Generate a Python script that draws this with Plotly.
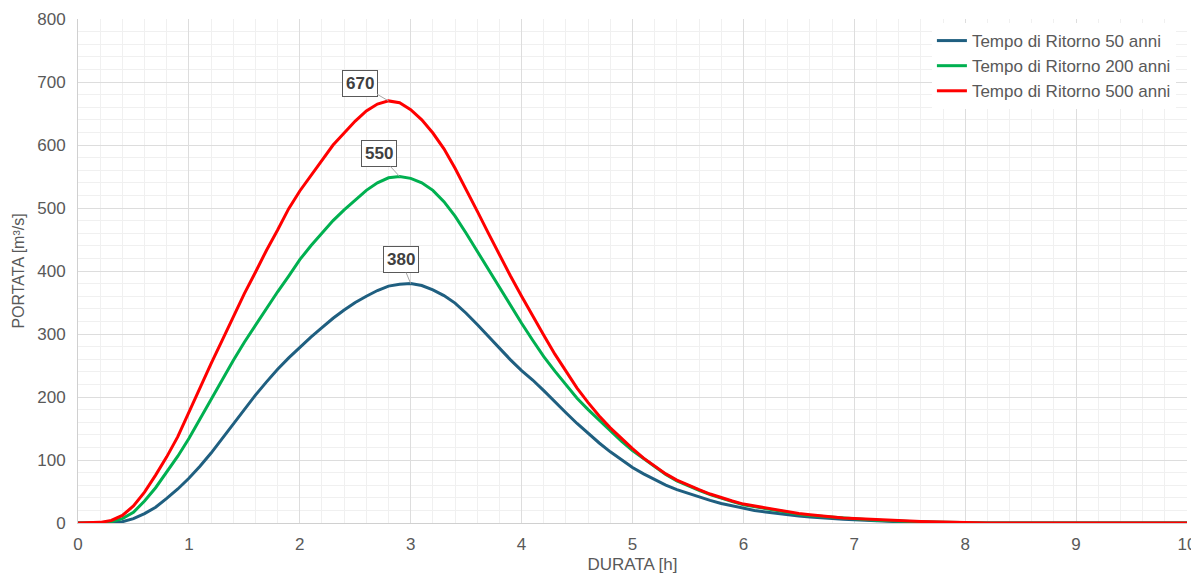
import plotly.graph_objects as go

DURATA = [0.0, 0.1, 0.2, 0.3, 0.4, 0.5, 0.6, 0.7, 0.8, 0.9,
          1.0, 1.1, 1.2, 1.3, 1.4, 1.5, 1.6, 1.7, 1.8, 1.9,
          2.0, 2.1, 2.2, 2.3, 2.4, 2.5, 2.6, 2.7, 2.8, 2.9,
          3.0, 3.1, 3.2, 3.3, 3.4, 3.5, 3.6, 3.7, 3.8, 3.9,
          4.0, 4.1, 4.2, 4.3, 4.4, 4.5, 4.6, 4.7, 4.8, 4.9,
          5.0, 5.1, 5.2, 5.3, 5.4, 5.5, 5.6, 5.7, 5.8, 5.9,
          6.0, 6.1, 6.2, 6.3, 6.4, 6.5, 6.6, 6.7, 6.8, 6.9,
          7.0, 7.1, 7.2, 7.3, 7.4, 7.5, 7.6, 7.7, 7.8, 7.9,
          8.0, 8.1, 8.2, 8.5, 9.0, 9.5, 10.0]

Q50 = [0, 0, 0, 0.5, 2, 7, 15, 25, 39, 54,
       71, 90, 111, 134, 158, 181, 203, 224, 244, 262,
       279, 295, 310, 325, 338, 350, 360, 369, 376, 379,
       380, 377, 370, 361, 349, 333, 315, 296, 277, 259,
       242, 227, 210, 192, 175, 158, 142, 127, 113, 100,
       88, 78, 69, 60, 53, 47, 41, 36, 31, 27,
       23, 20, 17.5, 15, 13, 11, 9.5, 8, 7, 6,
       5, 4, 3, 2.5, 2, 1.5, 1, 0.5, 0, 0,
       0, 0, 0, 0, 0, 0, 0]

Q200 = [0, 0, 0.5, 2, 7, 17, 35, 56, 80, 106,
        134, 165, 196, 228, 258, 287, 314, 341, 367, 392,
        418, 440, 460, 480, 497, 513, 528, 540, 548, 550,
        547, 540, 528, 510, 487, 460, 431, 402, 373, 344,
        317, 290, 264, 241, 219, 198, 180, 163, 146, 130,
        115, 102, 89, 77, 67, 59, 52, 45, 39, 34,
        29, 26, 22, 19, 16.5, 14, 12, 10.5, 9, 7.5,
        6.5, 5.5, 4.5, 3.5, 3, 2.5, 2, 1.5, 1, 1,
        0.5, 0, 0, 0, 0, 0, 0]

Q500 = [0, 0, 1, 4, 12, 27, 49, 76, 105, 137,
        176, 213, 253, 290, 327, 364, 398, 433, 465, 499,
        527, 552, 577, 600, 619, 638, 654, 665, 670, 667,
        656, 640, 619, 594, 563, 530, 495, 460, 425, 392,
        360, 328, 298, 268, 240, 214, 191, 170, 151, 134,
        118, 103, 90, 78, 68, 60, 53, 46, 40, 35,
        30, 27, 23, 20, 17, 15, 13, 11, 9.5, 8,
        7, 6, 5, 4, 3.5, 3, 2.5, 2, 1.5, 1,
        1, 0.5, 0, 0, 0, 0, 0]

NAMES = ["Tempo di Ritorno 50 anni", "Tempo di Ritorno 200 anni", "Tempo di Ritorno 500 anni"]
COLORS = ["#1F5F80", "#00B050", "#FF0000"]
SERIES = [Q50, Q200, Q500]
# label box offsets (pixels) relative to each peak
OFFSETS = [(-10, -24), (-21, -23), (-29, -17)]

FONT = "Liberation Sans, Arial"

fig = go.Figure()
for name, color, ys in zip(NAMES, COLORS, SERIES):
    fig.add_trace(go.Scatter(x=DURATA, y=ys, mode="lines", name=name,
                             line=dict(color=color, width=3)))

for ys, (ax, ay) in zip(SERIES, OFFSETS):
    peak = max(ys)
    xi = DURATA[ys.index(peak)]
    fig.add_annotation(x=xi, y=peak, text=f"<b>{peak:g}</b>", showarrow=True,
                       arrowhead=0, arrowwidth=1, arrowcolor="#A6A6A6",
                       ax=ax, ay=ay, bgcolor="white", bordercolor="#595959",
                       borderwidth=1, borderpad=3,
                       font=dict(family=FONT, size=17, color="#404040"))

axis_common = dict(showline=True, linecolor="#D0D0D0", linewidth=1,
                   gridcolor="#DDDDDD", gridwidth=1, zeroline=False,
                   tickfont=dict(family=FONT, size=17, color="#595959"),
                   ticks="")

fig.update_xaxes(range=[0, 10], dtick=1, ticklabelstandoff=6,
                 minor=dict(dtick=0.2, showgrid=True, gridcolor="#F0F0F0", gridwidth=1),
                 title=dict(text="DURATA [h]", standoff=4,
                            font=dict(family=FONT, size=17, color="#595959")),
                 automargin=False, **axis_common)
fig.update_yaxes(range=[0, 800], dtick=100, ticklabelstandoff=8,
                 minor=dict(dtick=20, showgrid=True, gridcolor="#F0F0F0", gridwidth=1),
                 title=dict(text="PORTATA [m³/s]", standoff=8,
                            font=dict(family=FONT, size=16, color="#595959")),
                 automargin=False, **axis_common)

fig.update_layout(
    width=1199, height=575,
    margin=dict(l=70, r=20, t=11, b=60),
    plot_bgcolor="white", paper_bgcolor="white",
    font=dict(family=FONT, color="#595959"),
    legend=dict(x=0.99, y=0.992, xanchor="right", yanchor="top",
                bgcolor="white", font=dict(size=17, color="#595959"),
                itemwidth=30, tracegroupgap=0),
    showlegend=True,
)

fig.write_html("out.html")
